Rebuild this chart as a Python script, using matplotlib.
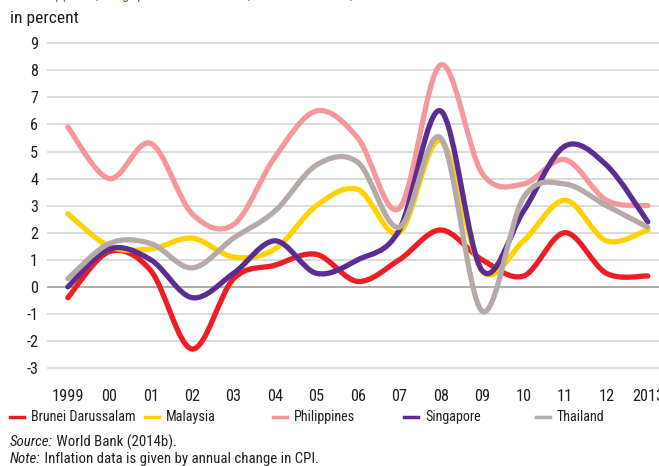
import numpy as np
import matplotlib
matplotlib.use("Agg")
import matplotlib.pyplot as plt
from matplotlib.path import Path
from matplotlib.patches import PathPatch
from matplotlib.lines import Line2D

plt.rcParams['font.family'] = ['Roboto Condensed', 'DejaVu Sans']
plt.rcParams['axes.unicode_minus'] = False

years = np.arange(1999, 2014)
tick_labels = ['1999', '00', '01', '02', '03', '04', '05', '06', '07',
               '08', '09', '10', '11', '12', '2013']

brunei = [-0.4, 1.3, 0.6, -2.3, 0.3, 0.8, 1.2, 0.2, 1.0, 2.1, 1.0, 0.4, 2.0, 0.5, 0.4]
malaysia = [2.7, 1.5, 1.4, 1.8, 1.1, 1.4, 3.0, 3.6, 2.0, 5.4, 0.6, 1.7, 3.2, 1.7, 2.1]
philippines = [5.9, 4.0, 5.3, 2.7, 2.3, 4.8, 6.5, 5.5, 2.9, 8.2, 4.2, 3.8, 4.7, 3.2, 3.0]
singapore = [0.0, 1.4, 1.0, -0.4, 0.5, 1.7, 0.5, 1.0, 2.1, 6.5, 0.6, 2.8, 5.2, 4.5, 2.4]
thailand = [0.3, 1.6, 1.6, 0.7, 1.8, 2.8, 4.5, 4.6, 2.2, 5.5, -0.9, 3.3, 3.8, 3.0, 2.2]

names = ['Brunei Darussalam', 'Malaysia', 'Philippines', 'Singapore', 'Thailand']
colors = ['#ee1c25', '#ffd200', '#f4989e', '#5c2d91', '#b5aaa7']
series = [brunei, malaysia, philippines, singapore, thailand]

W, H = 659, 466
INK = '#231f20'


def smooth_path(x, y):
    # excel-like smoothed line: cubic bezier through every point
    x = np.asarray(x, float)
    y = np.asarray(y, float)
    n = len(x)
    verts = [(x[0], y[0])]
    codes = [Path.MOVETO]
    for i in range(n - 1):
        p0 = np.array([x[max(i - 1, 0)], y[max(i - 1, 0)]])
        p1 = np.array([x[i], y[i]])
        p2 = np.array([x[i + 1], y[i + 1]])
        p3 = np.array([x[min(i + 2, n - 1)], y[min(i + 2, n - 1)]])
        c1 = p1 + (p2 - p0) / 6.0
        c2 = p2 - (p3 - p1) / 6.0
        verts += [tuple(c1), tuple(c2), tuple(p2)]
        codes += [Path.CURVE4] * 3
    return Path(verts, codes)


fig = plt.figure(figsize=(W / 100, H / 100), dpi=100)
r = fig.canvas.get_renderer()


def text_w(txt, size, **kw):
    t = fig.text(0, 0, txt, fontsize=size, **kw)
    w = t.get_window_extent(renderer=r).width
    t.remove()
    return w


def fit(txt, target, **kw):
    # font size that makes txt about target px wide
    return 10 * target / text_w(txt, 10, **kw)


tick_fs = fit('1999', 32)
leg_fs = fit('Brunei Darussalam', 105)
unit_fs = fit('in percent', 68)
note_fs = fit('Note: Inflation data is given by annual change in CPI.', 308)

ax = fig.add_axes([48 / W, 1 - 368 / H, 1 - 48 / W, (368 - 43.3) / H])
ax.set_xlim(1998.52, 2013.27)
ax.set_ylim(-3, 9)
ax.set_yticks(range(-3, 10))
ax.set_xticks(years)
ax.set_xticklabels(tick_labels)
for s in ax.spines.values():
    s.set_visible(False)
ax.tick_params(length=0, labelsize=tick_fs, colors=INK)
ax.tick_params(axis='x', pad=15)
ax.tick_params(axis='y', pad=7)
for v in range(-3, 10):
    ax.axhline(v, color='#a6a6a6' if v == 0 else '#d9d9d9', lw=1.3, zorder=1,
               clip_on=False)

for vals, c in zip(series, colors):
    p = PathPatch(smooth_path(years, vals), fill=False, edgecolor=c, lw=3.8,
                  capstyle='round', joinstyle='round', zorder=3)
    ax.add_patch(p)

fig.text(10 / W, 1 - 19 / H, 'in percent', fontsize=unit_fs, va='center', color=INK)

# title line, cut off at the top edge
title = 'the Philippines, Singapore and Thailand, annual inflation, 1999\u20132013'
t_fs = 10 * (247 - 55) / (text_w('the Philippines, Singapore and Thailand', 10)
                          - text_w('the Phili', 10))
x0 = 55 - text_w('the Phili', t_fs)
fig.text(x0 / W, 1 + 1.5 / H, title, fontsize=t_fs, va='baseline', color='#8a7441')

# legend row
leg_x = [10, 145, 273, 404, 536]
for xx, c, nm in zip(leg_x, colors, names):
    fig.add_artist(Line2D([xx / W, (xx + 14) / W], [1 - 417 / H] * 2,
                          color=c, lw=2.5, transform=fig.transFigure))
    fig.text((xx + 21) / W, 1 - 417 / H, nm, fontsize=leg_fs, va='center', color=INK)

for yy, lab, rest in [(442, 'Source:', ' World Bank (2014b).'),
                      (459, 'Note:', ' Inflation data is given by annual change in CPI.')]:
    t = fig.text(10 / W, 1 - yy / H, lab, fontsize=note_fs, style='italic',
                 va='center', color=INK)
    bb = t.get_window_extent(renderer=r)
    fig.text(bb.x1 / W, 1 - yy / H, rest, fontsize=note_fs, va='center', color=INK)

fig.savefig('out.png', dpi=100)
